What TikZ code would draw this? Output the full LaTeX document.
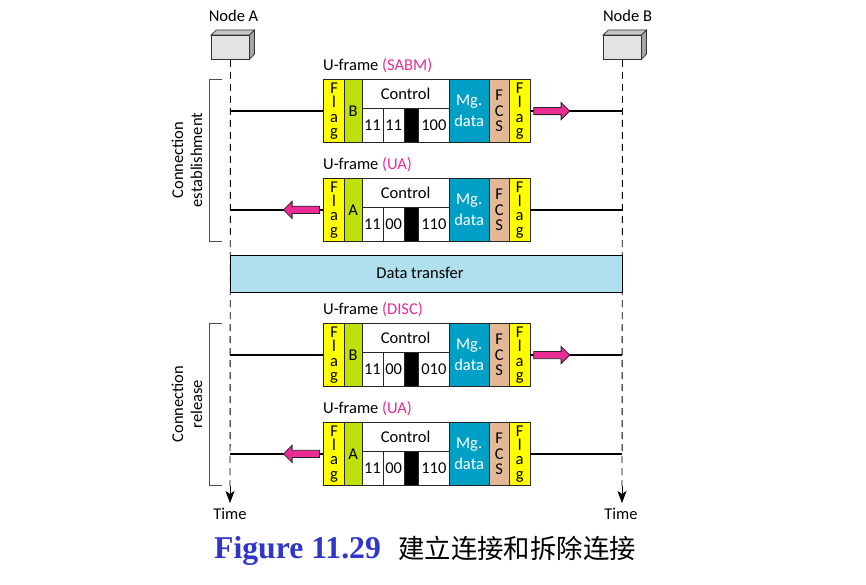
\documentclass[tikz,border=0pt]{standalone}
\usepackage{fontspec}
\setmainfont{Carlito}
\newfontfamily\capfont{Liberation Serif}
\newfontfamily\cjk{Noto Sans CJK SC}
\usetikzlibrary{shapes.arrows,arrows.meta,calc}
\definecolor{flagc}{HTML}{FFFF00}
\definecolor{addrc}{HTML}{BFE00A}
\definecolor{mgc}{HTML}{009FC6}
\definecolor{fcsc}{HTML}{E3B995}
\definecolor{pinkc}{HTML}{EC2C95}
\definecolor{bandc}{HTML}{B0E0EE}
\definecolor{capc}{HTML}{2F36C8}
\tikzset{
  txt/.style={font=\fontsize{16.5}{18}\selectfont,text=black,inner sep=0pt},
  fieldbox/.style={draw=black!85,line width=0.9pt,anchor=north west,inner sep=0pt,
    font=\fontsize{16.5}{17}\selectfont,align=center},
  flagbox/.style={fieldbox,fill=flagc,minimum width=20.6pt,minimum height=62.6pt,font=\fontsize{16.5}{14.2}\selectfont},
  addrbox/.style={fieldbox,fill=addrc,minimum width=17.6pt,minimum height=62.6pt},
  ctlbox/.style={fieldbox,fill=white,minimum width=87.4pt,minimum height=28.8pt},
  bitbox/.style={fieldbox,fill=white,minimum height=33.8pt},
  blackbox/.style={fieldbox,fill=black,minimum width=14pt,minimum height=33.8pt},
  mgbox/.style={fieldbox,fill=mgc,text=white,minimum width=39.6pt,minimum height=62.6pt,font=\fontsize{16.5}{21}\selectfont},
  fcsbox/.style={fieldbox,fill=fcsc,minimum width=20.4pt,minimum height=62.6pt,font=\fontsize{16.5}{15.5}\selectfont},
  msgline/.style={draw=black,line width=1.6pt},
  life/.style={draw=black,line width=0.9pt,dash pattern=on 7pt off 5pt},
  lifehead/.style={draw=black,line width=0.9pt,-{Stealth[length=12pt,width=9pt,inset=3pt]}},
  bracket/.style={draw=black!70,line width=0.8pt},
  pinkarrow/.style={single arrow,draw=black!85,fill=pinkc,line width=0.8pt,inner sep=3.2pt,
    minimum width=17pt,minimum height=36pt,single arrow head extend=5pt,single arrow tip angle=90},
}
\newcommand{\uframe}[7]{% name, top y, addr, bits1, bits2, bits3, label
  \node[txt,anchor=base west] (#1lab) at (323,#2-9) {U-frame \textcolor{pinkc}{(#7)}};
  \node[flagbox] (#1fl) at (323.3,#2) {F\\l\\a\\g};
  \node[addrbox] (#1ad) at (343.9,#2) {#3};
  \node[ctlbox] (#1ct) at (361.5,#2) {Control};
  \node[bitbox,minimum width=21pt] (#1b1) at (361.5,#2+28.8) {#4};
  \node[bitbox,minimum width=21.5pt] (#1b2) at (382.5,#2+28.8) {#5};
  \node[blackbox] (#1bk) at (404,#2+28.8) {};
  \node[bitbox,minimum width=30.9pt] (#1b3) at (418,#2+28.8) {#6};
  \node[mgbox] (#1mg) at (448.9,#2) {Mg.\\data};
  \node[fcsbox] (#1fc) at (488.5,#2) {F\\C\\S};
  \node[flagbox] (#1fr) at (508.9,#2) {F\\l\\a\\g};
}
\begin{document}
\begin{tikzpicture}[x=1pt,y=-1pt]
\useasboundingbox (0,0) rectangle (866,585);
\fill[white] (0,0) rectangle (866,585);

% End stations
\foreach \n/\x/\t/\l in {A/211/233.5/Node A,B/603/627.5/Node B}{
  \fill[gray!70,draw=black!80,line width=0.7pt] (\x+38.3,35) -- (\x+43.5,30) -- (\x+43.5,54) -- (\x+38.3,59.3) -- cycle;
  \fill[gray!45,draw=black!80,line width=0.7pt] (\x,35) -- (\x+5.5,30) -- (\x+43.5,30) -- (\x+38.3,35) -- cycle;
  \node[draw=black!80,fill=black!11,line width=0.7pt,minimum width=38.3pt,minimum height=24.3pt,inner sep=0pt,anchor=north west] (node\n) at (\x,35) {};
  \node[txt,anchor=base] (label\n) at (\t,22) {\l};
}
\coordinate (endA) at (230,503);
\coordinate (endB) at (622,503);
\node[txt,anchor=base] (timeA) at (230,519) {Time};
\node[txt,anchor=base] (timeB) at (621,519) {Time};
\draw[life] (nodeA.south) -- (230,486);
\draw[life] (nodeB.south) -- (622,486);
\draw[lifehead] (230,486) -- (endA);
\draw[lifehead] (622,486) -- (endB);

% Brackets
\draw[bracket] (222,79.5) -- (209.5,79.5) -- (209.5,241) -- (222,241);
\draw[bracket] (222,323.5) -- (209.5,323.5) -- (209.5,485) -- (222,485);
\node[txt,rotate=90,align=center,font=\fontsize{16.5}{19}\selectfont] (est) at (187,160) {Connection\\establishment};
\node[txt,rotate=90,align=center,font=\fontsize{16.5}{19}\selectfont] (rel) at (187,404) {Connection\\release};

% Data transfer
\node[draw=black,fill=bandc,line width=0.9pt,minimum width=392pt,minimum height=36.5pt,inner sep=0pt,anchor=north west] (band) at (230,255) {};
\node[txt] (bandtext) at (420,273) {Data transfer};

% Frames
\uframe{f}{79.3}{B}{11}{11}{100}{SABM}
\uframe{g}{178.1}{A}{11}{00}{110}{UA}
\uframe{h}{323.3}{B}{11}{00}{010}{DISC}
\uframe{k}{422.1}{A}{11}{00}{110}{UA}

% Message lines
\foreach \f in {f,g,h,k}{
  \draw[msgline] (\f fl.west) -- (\f fl.west -| 230,0);
  \draw[msgline] (\f fr.east) -- (\f fr.east -| 622,0);
}
% Direction arrows
\node[pinkarrow] (af) at ($(ffr.east)+(19.5,0)$) {};
\node[pinkarrow,shape border rotate=180] (ag) at ($(gfl.west)+(-20,0)$) {};
\node[pinkarrow] (ah) at ($(hfr.east)+(19.5,0)$) {};
\node[pinkarrow,shape border rotate=180] (ak) at ($(kfl.west)+(-20,0)$) {};

% Caption
\node[inner sep=0pt,anchor=base west,text=capc,font=\capfont\bfseries\fontsize{31.7}{33}\selectfont] (cap) at (214,558) {Figure 11.29};
\node[inner sep=0pt,anchor=base west,font=\cjk\fontsize{26.4}{28}\selectfont] (capz) at (398,558) {建立连接和拆除连接};
\end{tikzpicture}
\end{document}
